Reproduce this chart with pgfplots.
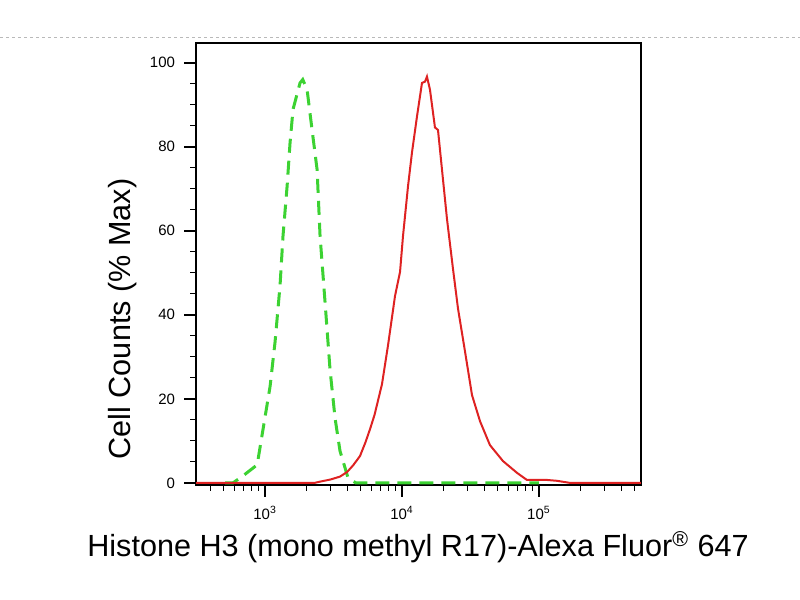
\documentclass[border=0pt]{standalone}
\usepackage{fontspec}
\setmainfont{Liberation Sans}
\usepackage{pgfplots}
\pgfplotsset{compat=1.18}
\definecolor{cred}{RGB}{222,34,34}
\definecolor{cgreen}{RGB}{60,210,50}
\begin{document}
\begin{tikzpicture}
\useasboundingbox (0,0) rectangle (400pt,300pt);
\draw[gray!55, line width=0.5pt, dash pattern=on 1.5pt off 1.5pt] (0,281pt) -- (400pt,281pt);
\begin{axis}[
  at={(98pt,57.5pt)}, anchor=south west,
  scale only axis, width=222.5pt, height=221pt,
  xmode=log, xmin=313, xmax=556000,
  ymin=-0.5, ymax=104.7,
  axis line style={black, line width=0.6pt},
  tick align=outside, tick pos=left,
  major tick length=6pt, minor tick length=2.8pt,
  every major tick/.style={black, line width=1.1pt},
  every minor tick/.style={black, line width=0.6pt},
  xtick={1000,10000,100000},
  xticklabels={10\textsuperscript{3},10\textsuperscript{4},10\textsuperscript{5}},
  minor xtick={400,500,600,700,800,900,2000,3000,4000,5000,6000,7000,8000,9000,20000,30000,40000,50000,60000,70000,80000,90000,200000,300000,400000,500000},
  ytick={0,20,40,60,80,100},
  minor ytick={5,10,15,25,30,35,45,50,55,65,70,75,85,90,95},
  /pgf/number format/assume math mode=true,
  tick label style={font=\fontsize{7.5}{9}\selectfont},
  xticklabel style={yshift=-1pt},
  yticklabel style={xshift=-1pt},
  clip=true,
]
\addplot[cgreen, line width=1.5pt, dash pattern=on 7pt off 4pt] coordinates {
(511,0) (583,0) (691,1.7) (875,4.3) (951,11.4) (1088,23) (1183,33.6) (1286,47)
(1352,58.8) (1448,70.6) (1522,81) (1600,88.9) (1800,95.2) (1884,96) (2026,93.6)
(2204,84) (2397,74.6) (2520,58.8) (2741,43) (2980,27) (3243,15.4) (3525,7.6)
(4034,1.2) (4600,0) (20000,0) (100000,0)
};
\addplot[cred, line width=1pt] coordinates {
(313,0) (2300,0) (2518,0.3) (3000,0.8) (3525,1.5) (3975,2.6) (4400,4.2) (4935,6.4)
(5400,9.6) (5840,12.8) (6300,16.2) (7140,23.5) (7900,32.7) (8890,44.5) (9670,50.2)
(10170,58.8) (11060,70.6) (11830,78.7) (12860,87.2) (13990,95.2) (14720,95.5)
(15210,96.7) (16000,93.6) (17400,84.6) (18310,84) (19580,74.6) (21300,62.8)
(23550,51) (25630,41.5) (28830,31.3) (32440,20.9) (37100,14.7) (43850,9)
(54580,5.2) (69080,2.4) (81680,0.7) (114300,0.7) (135200,0.5) (168300,0) (556000,0)
};
\end{axis}
\node[rotate=90, anchor=base, font=\fontsize{15.3}{18}\selectfont] at (65pt,140.5pt) {Cell Counts (\% Max)};
\node[anchor=base, font=\fontsize{15.3}{18}\selectfont] at (209pt,21.5pt) {Histone H3 (mono methyl R17)-Alexa Fluor\textsuperscript{®} 647};
\end{tikzpicture}
\end{document}
